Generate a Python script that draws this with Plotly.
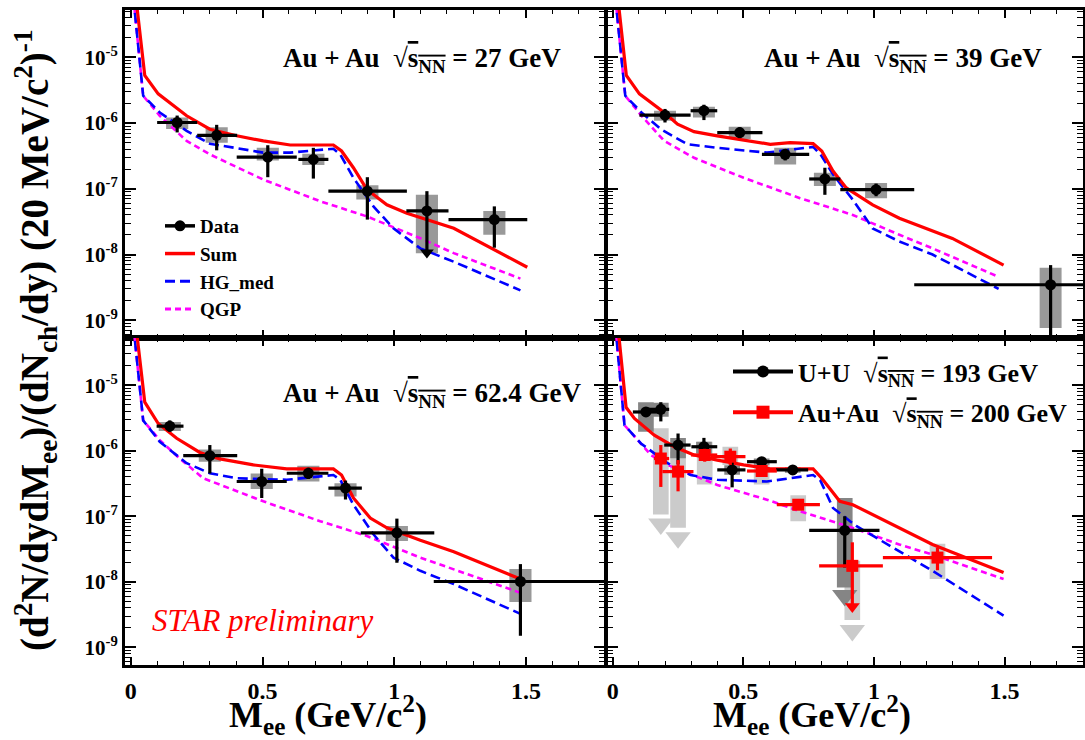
import plotly.graph_objects as go

FONT = "Liberation Serif"

# ---------------- Au+Au 27 GeV ----------------
m_27 = [0.176, 0.326, 0.52, 0.693, 0.898, 1.124, 1.38]
y_27 = [1.02e-6, 6.5e-7, 3.04e-7, 2.8e-7, 9.2e-8, 4.6e-8, 3.4e-8]
mlo_27 = [0.10, 0.252, 0.402, 0.636, 0.75, 1.046, 1.206]
mhi_27 = [0.252, 0.404, 0.63, 0.75, 1.048, 1.206, 1.505]
elo_27 = [7.2e-7, 3.85e-7, 1.5e-7, 1.43e-7, 3.4e-8, 1.1e-8, 1.27e-8]
ehi_27 = [1.3e-6, 9.4e-7, 4.6e-7, 4.2e-7, 1.5e-7, 9.2e-8, 5.4e-8]
slo_27 = [8.1e-7, 5.0e-7, 2.7e-7, 2.3e-7, 6.9e-8, 1.05e-8, 2.0e-8]
shi_27 = [1.22e-6, 8.6e-7, 4.2e-7, 3.4e-7, 1.13e-7, 8.1e-8, 4.6e-8]
arrow_m_27 = [1.124]
arrow_y_27 = [1.07e-8]

sum_m_27 = [0.02, 0.053, 0.104, 0.212, 0.30, 0.402, 0.503, 0.605, 0.668, 0.769, 0.80, 0.845, 0.896, 0.972, 1.048, 1.226, 1.505]
sum_y_27 = [7.7e-5, 5.3e-6, 2.78e-6, 1.29e-6, 8.07e-7, 6.4e-7, 5.35e-7, 4.64e-7, 4.64e-7, 4.64e-7, 3.76e-7, 2.09e-7, 9.77e-8, 5.7e-8, 4.26e-8, 2.51e-8, 6.4e-9]
hg_m_27 = [0.01, 0.047, 0.11, 0.212, 0.30, 0.40, 0.503, 0.605, 0.769, 0.795, 0.845, 0.921, 0.997, 1.099, 1.226, 1.479]
hg_y_27 = [8e-5, 2.6e-6, 1.45e-6, 7.6e-7, 4.86e-7, 4.2e-7, 3.55e-7, 3.55e-7, 4.07e-7, 3.34e-7, 1.47e-7, 5.4e-8, 2.5e-8, 1.24e-8, 7.76e-9, 2.85e-9]
qgp_m_27 = [0.01, 0.047, 0.11, 0.212, 0.30, 0.503, 0.719, 0.896, 1.099, 1.226, 1.479]
qgp_y_27 = [8e-5, 2.6e-6, 1.29e-6, 5.35e-7, 3.34e-7, 1.38e-7, 6.46e-8, 3.8e-8, 1.77e-8, 1.05e-8, 4.3e-9]

# ---------------- Au+Au 39 GeV ----------------
m_39 = [0.20, 0.349, 0.486, 0.66, 0.812, 1.008, 1.676]
y_39 = [1.32e-6, 1.54e-6, 7.16e-7, 3.34e-7, 1.41e-7, 9.7e-8, 3.47e-9]
mlo_39 = [0.102, 0.298, 0.40, 0.571, 0.752, 0.871, 1.154]
mhi_39 = [0.298, 0.40, 0.573, 0.752, 0.871, 1.154, 2.2]
elo_39 = [1.02e-6, 1.11e-6, 5.9e-7, 2.7e-7, 8.1e-8, 7.7e-8, 3e-10]
ehi_39 = [1.64e-6, 1.9e-6, 8.6e-7, 4.0e-7, 2.09e-7, 1.2e-7, 6.9e-9]
slo_39 = [1.08e-6, 1.22e-6, 5.7e-7, 2.35e-7, 1.1e-7, 7.2e-8, 7.6e-10]
shi_39 = [1.54e-6, 1.77e-6, 8.8e-7, 4.2e-7, 1.75e-7, 1.23e-7, 6.3e-9]

sum_m_39 = [0.02, 0.052, 0.102, 0.197, 0.248, 0.311, 0.40, 0.501, 0.603, 0.679, 0.767, 0.80, 0.843, 0.894, 0.995, 1.097, 1.30, 1.496]
sum_y_39 = [7.7e-5, 5.3e-6, 2.78e-6, 1.45e-6, 9.6e-7, 7.4e-7, 6.4e-7, 5.5e-7, 4.75e-7, 5.04e-7, 4.86e-7, 3.76e-7, 1.86e-7, 1.03e-7, 5.7e-8, 3.56e-8, 1.76e-8, 6.9e-9]
hg_m_39 = [0.01, 0.048, 0.11, 0.184, 0.286, 0.40, 0.59, 0.767, 0.795, 0.843, 0.919, 0.995, 1.097, 1.224, 1.477]
hg_y_39 = [8e-5, 2.6e-6, 1.45e-6, 8.07e-7, 4.75e-7, 4.2e-7, 3.55e-7, 4.33e-7, 3.34e-7, 1.66e-7, 6.8e-8, 2.5e-8, 1.58e-8, 1.0e-8, 3.0e-9]
qgp_m_39 = [0.01, 0.048, 0.11, 0.197, 0.311, 0.501, 0.717, 0.919, 1.097, 1.224, 1.477]
qgp_y_39 = [8e-5, 2.6e-6, 1.29e-6, 5.35e-7, 2.96e-7, 1.47e-7, 7.2e-8, 4.0e-8, 2.0e-8, 1.24e-8, 4.57e-9]

# ---------------- Au+Au 62.4 GeV ----------------
m_62 = [0.148, 0.30, 0.497, 0.674, 0.815, 1.01, 1.479]
y_62 = [2.37e-6, 8.4e-7, 3.39e-7, 4.53e-7, 2.69e-7, 5.58e-8, 1.01e-8]
mlo_62 = [0.098, 0.199, 0.402, 0.592, 0.75, 0.873, 1.15]
mhi_62 = [0.2, 0.404, 0.592, 0.75, 0.877, 1.152, 2.2]
elo_62 = [1.94e-6, 4.5e-7, 1.9e-7, 3.7e-7, 1.8e-7, 1.95e-8, 1.5e-9]
ehi_62 = [2.9e-6, 1.22e-6, 5.3e-7, 5.5e-7, 3.5e-7, 9.2e-8, 1.86e-8]
slo_62 = [2.0e-6, 6.8e-7, 2.6e-7, 3.4e-7, 2.0e-7, 4.2e-8, 4.9e-9]
shi_62 = [2.75e-6, 1.04e-6, 4.5e-7, 5.9e-7, 3.2e-7, 7.1e-8, 1.57e-8]

sum_m_62 = [0.02, 0.053, 0.104, 0.174, 0.262, 0.338, 0.465, 0.592, 0.769, 0.80, 0.845, 0.909, 0.972, 1.099, 1.226, 1.352, 1.479]
sum_y_62 = [7.7e-5, 5.5e-6, 2.6e-6, 1.55e-6, 9.4e-7, 7.5e-7, 6.07e-7, 5.28e-7, 5.28e-7, 4.26e-7, 1.9e-7, 9.4e-8, 6.65e-8, 4.29e-8, 2.88e-8, 1.81e-8, 1.1e-8]
hg_m_62 = [0.01, 0.047, 0.11, 0.212, 0.30, 0.402, 0.592, 0.769, 0.795, 0.845, 0.921, 0.997, 1.099, 1.226, 1.479]
hg_y_62 = [8e-5, 2.9e-6, 1.37e-6, 6.45e-7, 4.53e-7, 3.8e-7, 3.6e-7, 4.26e-7, 3.6e-7, 1.5e-7, 5.3e-8, 2.34e-8, 1.47e-8, 9.2e-9, 3.24e-9]
qgp_m_62 = [0.01, 0.047, 0.11, 0.186, 0.275, 0.503, 0.719, 0.896, 1.099, 1.226, 1.492]
qgp_y_62 = [8e-5, 2.9e-6, 1.45e-6, 7.6e-7, 3.8e-7, 1.69e-7, 8.4e-8, 5.0e-8, 2.34e-8, 1.55e-8, 6.5e-9]

# ---------------- U+U 193 GeV ----------------
m_uu = [0.127, 0.184, 0.25, 0.349, 0.457, 0.57, 0.689, 0.888]
y_uu = [3.9e-6, 4.28e-6, 1.22e-6, 1.15e-6, 5.1e-7, 6.8e-7, 5.1e-7, 6.07e-8]
mlo_uu = [0.077, 0.127, 0.197, 0.301, 0.40, 0.514, 0.625, 0.752]
mhi_uu = [0.184, 0.216, 0.298, 0.40, 0.508, 0.628, 0.748, 1.021]
elo_uu = [3.3e-6, 2.8e-6, 6.2e-7, 7.0e-7, 2.76e-7, 5.9e-7, 4.5e-7, 1.65e-8]
ehi_uu = [4.6e-6, 5.5e-6, 1.83e-6, 1.57e-6, 7.1e-7, 7.8e-7, 5.8e-7, 1.0e-7]
slo_uu = [1.94e-6, 3.3e-6, 7.7e-7, 9.1e-7, 4.3e-7, 6.1e-7, 4.6e-7, 8.2e-9]
shi_uu = [5.5e-6, 5.4e-6, 1.57e-6, 1.37e-6, 6.0e-7, 7.6e-7, 5.6e-7, 1.9e-7]
sys_arrow_m_uu = [0.888]
sys_arrow_y_uu = [6.2e-9]

# ---------------- Au+Au 200 GeV ----------------
m_200 = [0.184, 0.25, 0.352, 0.45, 0.57, 0.71, 0.917, 1.243]
y_200 = [7.6e-7, 4.8e-7, 8.6e-7, 8.1e-7, 4.9e-7, 1.5e-7, 1.75e-8, 2.34e-8]
mlo_200 = [0.158, 0.19, 0.30, 0.375, 0.514, 0.628, 0.79, 1.034]
mhi_200 = [0.216, 0.309, 0.40, 0.508, 0.628, 0.793, 1.034, 1.452]
elo_200 = [2.8e-7, 2.4e-7, 6.8e-7, 6.07e-7, 4.2e-7, 1.35e-7, 4.2e-9, 1.5e-8]
ehi_200 = [1.22e-6, 7.2e-7, 1.07e-6, 1.08e-6, 5.6e-7, 1.65e-7, 4.0e-8, 3.3e-8]
slo_200 = [1.06e-7, 6.7e-8, 3.05e-7, 6.07e-7, 3.05e-7, 8.4e-8, 2.6e-9, 1.1e-8]
shi_200 = [2.2e-6, 9.7e-7, 1.37e-6, 1.15e-6, 6.4e-7, 2.1e-7, 2.1e-8, 3.8e-8]
arrow_m_200 = [0.917]
arrow_y_200 = [4.2e-9]
sys_arrow_m_200 = [0.184, 0.25, 0.917]
sys_arrow_y_200 = [7.6e-8, 4.7e-8, 1.8e-9]

sum_m_200 = [0.02, 0.051, 0.083, 0.159, 0.235, 0.311, 0.40, 0.501, 0.603, 0.767, 0.80, 0.869, 0.919, 0.995, 1.224, 1.35, 1.496]
sum_y_200 = [7.7e-5, 4.6e-6, 3.1e-6, 1.73e-6, 1.15e-6, 8.6e-7, 7.2e-7, 6.07e-7, 5.28e-7, 5.28e-7, 3.8e-7, 1.69e-7, 1.5e-7, 1.06e-7, 3.7e-8, 2.34e-8, 1.38e-8]
hg_m_200 = [0.01, 0.045, 0.108, 0.21, 0.298, 0.40, 0.59, 0.767, 0.795, 0.843, 0.932, 1.008, 1.224, 1.496]
hg_y_200 = [8e-5, 2.45e-6, 1.29e-6, 6.45e-7, 4.26e-7, 3.6e-7, 3.39e-7, 4.26e-7, 3.5e-7, 1.34e-7, 7.1e-8, 4.7e-8, 1.47e-8, 3.05e-9]
qgp_m_200 = [0.01, 0.045, 0.146, 0.21, 0.40, 0.59, 0.717, 0.919, 1.097, 1.224, 1.496]
qgp_y_200 = [8e-5, 2.45e-6, 8.6e-7, 6.07e-7, 3.0e-7, 1.79e-7, 1.19e-7, 6.65e-8, 3.7e-8, 2.6e-8, 1.1e-8]

# axis ticks
x_tickvals = [0, 0.5, 1, 1.5]
x_ticktext = ["0", "0.5", "1", "1.5"]
decades = [-9, -8, -7, -6, -5]

# sys box half widths (GeV/c^2)
SYS_HW = 0.042
SYS_HW_TOP = 0.03

RED = "#ff0000"
BLUE = "#0000ff"
MAGENTA = "#ff00ff"
GREY = "#999999"
DARK_GREY = "#858585"
LIGHT_GREY = "#cbcbcb"

fig = go.Figure()


def ax_ids(p):
    return ("x", "y") if p == 1 else (f"x{p}", f"y{p}")


def add_boxes(p, m, lo, hi, hw, color):
    xa, ya = ax_ids(p)
    xs, ys = [], []
    for c, a, b in zip(m, lo, hi):
        xs += [c - hw, c + hw, c + hw, c - hw, c - hw, None]
        ys += [a, a, b, b, a, None]
    fig.add_trace(go.Scatter(x=xs, y=ys, xaxis=xa, yaxis=ya, mode="lines",
                             fill="toself", fillcolor=color, line=dict(width=0, color=color),
                             showlegend=False, hoverinfo="skip"))


def add_arrows(p, m, y, color, size):
    xa, ya = ax_ids(p)
    fig.add_trace(go.Scatter(x=m, y=y, xaxis=xa, yaxis=ya, mode="markers",
                             marker=dict(symbol="triangle-down", size=size, color=color,
                                         line=dict(width=0)),
                             showlegend=False, hoverinfo="skip"))


def add_curves(p, sm, sy, hm, hy, qm, qy):
    xa, ya = ax_ids(p)
    fig.add_trace(go.Scatter(x=qm, y=qy, xaxis=xa, yaxis=ya, mode="lines",
                             line=dict(color=MAGENTA, width=2.6, dash="6px,4px"),
                             showlegend=False, hoverinfo="skip"))
    fig.add_trace(go.Scatter(x=hm, y=hy, xaxis=xa, yaxis=ya, mode="lines",
                             line=dict(color=BLUE, width=2.6, dash="10px,5px"),
                             showlegend=False, hoverinfo="skip"))
    fig.add_trace(go.Scatter(x=sm, y=sy, xaxis=xa, yaxis=ya, mode="lines",
                             line=dict(color=RED, width=3.2),
                             showlegend=False, hoverinfo="skip"))


def add_points(p, m, y, mlo, mhi, elo, ehi, color, symbol, size):
    xa, ya = ax_ids(p)
    fig.add_trace(go.Scatter(
        x=m, y=y, xaxis=xa, yaxis=ya, mode="markers",
        marker=dict(color=color, symbol=symbol, size=size),
        error_x=dict(type="data", symmetric=False,
                     array=[h - c for h, c in zip(mhi, m)],
                     arrayminus=[c - l for c, l in zip(m, mlo)],
                     color=color, thickness=3.2, width=0),
        error_y=dict(type="data", symmetric=False,
                     array=[h - c for h, c in zip(ehi, y)],
                     arrayminus=[c - l for c, l in zip(y, elo)],
                     color=color, thickness=3.2, width=0),
        showlegend=False, hoverinfo="skip"))


# panel 1: 27 GeV
add_boxes(1, m_27, slo_27, shi_27, SYS_HW, GREY)
add_curves(1, sum_m_27, sum_y_27, hg_m_27, hg_y_27, qgp_m_27, qgp_y_27)
add_points(1, m_27, y_27, mlo_27, mhi_27, elo_27, ehi_27, "black", "circle", 11)
add_arrows(1, arrow_m_27, arrow_y_27, "black", 12)

# panel 2: 39 GeV
add_boxes(2, m_39, slo_39, shi_39, SYS_HW, GREY)
add_curves(2, sum_m_39, sum_y_39, hg_m_39, hg_y_39, qgp_m_39, qgp_y_39)
add_points(2, m_39, y_39, mlo_39, mhi_39, elo_39, ehi_39, "black", "circle", 11)

# panel 3: 62.4 GeV
add_boxes(3, m_62, slo_62, shi_62, SYS_HW, GREY)
add_curves(3, sum_m_62, sum_y_62, hg_m_62, hg_y_62, qgp_m_62, qgp_y_62)
add_points(3, m_62, y_62, mlo_62, mhi_62, elo_62, ehi_62, "black", "circle", 11)

# panel 4: U+U 193 GeV and Au+Au 200 GeV
add_boxes(4, m_200, slo_200, shi_200, SYS_HW_TOP, LIGHT_GREY)
add_arrows(4, sys_arrow_m_200, sys_arrow_y_200, LIGHT_GREY, 22)
add_boxes(4, m_uu, slo_uu, shi_uu, SYS_HW_TOP, DARK_GREY)
add_arrows(4, sys_arrow_m_uu, sys_arrow_y_uu, DARK_GREY, 22)
add_curves(4, sum_m_200, sum_y_200, hg_m_200, hg_y_200, qgp_m_200, qgp_y_200)
add_points(4, m_uu, y_uu, mlo_uu, mhi_uu, elo_uu, ehi_uu, "black", "circle", 11)
add_points(4, m_200, y_200, mlo_200, mhi_200, elo_200, ehi_200, RED, "square", 12)
add_arrows(4, arrow_m_200, arrow_y_200, RED, 13)

# legend entries (first panel)
fig.add_trace(go.Scatter(x=[None], y=[None], mode="lines+markers", name="Data",
                         line=dict(color="black", width=3.5),
                         marker=dict(color="black", size=11, symbol="circle"),
                         legend="legend"))
fig.add_trace(go.Scatter(x=[None], y=[None], mode="lines", name="Sum",
                         line=dict(color=RED, width=3.5), legend="legend"))
fig.add_trace(go.Scatter(x=[None], y=[None], mode="lines", name="HG_med",
                         line=dict(color=BLUE, width=3, dash="10px,5px"), legend="legend"))
fig.add_trace(go.Scatter(x=[None], y=[None], mode="lines", name="QGP",
                         line=dict(color=MAGENTA, width=3, dash="6px,4px"), legend="legend"))

# legend entries (fourth panel)
SQRT_S = "\u221a<span style='text-decoration:overline'>s<sub>NN</sub></span>"
fig.add_trace(go.Scatter(x=[None], y=[None], mode="lines+markers",
                         name=f"U+U\u00a0\u00a0{SQRT_S} = 193 GeV",
                         line=dict(color="black", width=4),
                         marker=dict(color="black", size=12, symbol="circle"),
                         legend="legend2", legendgroup="e"))
fig.add_trace(go.Scatter(x=[None], y=[None], mode="lines+markers",
                         name=f"Au+Au\u00a0\u00a0{SQRT_S} = 200 GeV",
                         line=dict(color=RED, width=4),
                         marker=dict(color=RED, size=13, symbol="square"),
                         legend="legend2", legendgroup="f"))

XDOM_L = [125 / 1085, 605 / 1085]
XDOM_R = [607 / 1085, 1083 / 1085]
YDOM_T = [1 - 338 / 740, 1 - 10 / 740]
YDOM_B = [1 - 665 / 740, 1 - 338 / 740]

y_tickvals = [10.0 ** d for d in decades]
y_ticktext = [f"10<sup>{d}</sup>" for d in decades]
y_minor = [k * 10.0 ** d for d in range(-10, -4) for k in range(2, 10)]

tick_font = dict(family=FONT, size=24, color="black", weight="bold")
ytick_font = dict(family=FONT, size=21, color="black", weight="bold")


def xaxis(domain, anchor, labels):
    return dict(domain=domain, anchor=anchor, range=[-0.022, 1.8], automargin=False,
                showline=True, linewidth=3, linecolor="black", mirror="allticks",
                ticks="inside", ticklen=8, tickwidth=1.6, tickcolor="black",
                tickmode="array", tickvals=x_tickvals, ticktext=x_ticktext,
                showticklabels=labels, tickfont=tick_font, ticklabelstandoff=2,
                minor=dict(dtick=0.1, tick0=0, ticks="inside", ticklen=4, tickwidth=1.3,
                           tickcolor="black", showgrid=False),
                showgrid=False, zeroline=False)


def yaxis(domain, anchor, labels):
    return dict(domain=domain, anchor=anchor, type="log", range=[-9.27, -4.28],
                automargin=False,
                showline=True, linewidth=3, linecolor="black", mirror="allticks",
                ticks="inside", ticklen=11, tickwidth=1.6, tickcolor="black",
                tickmode="array", tickvals=y_tickvals, ticktext=y_ticktext,
                showticklabels=labels, tickfont=ytick_font,
                minor=dict(tickmode="array", tickvals=y_minor, ticks="inside", ticklen=6,
                           tickwidth=1.3, tickcolor="black", showgrid=False),
                showgrid=False, zeroline=False)


title_font = dict(family=FONT, size=27, color="black", weight="bold")
annotations = [
    dict(text=f"Au + Au\u00a0\u00a0{SQRT_S} = 27 GeV", x=422 / 1085, y=1 - 60 / 740),
    dict(text=f"Au + Au\u00a0\u00a0{SQRT_S} = 39 GeV", x=903 / 1085, y=1 - 60 / 740),
    dict(text=f"Au + Au\u00a0\u00a0{SQRT_S} = 62.4 GeV", x=432 / 1085, y=1 - 395 / 740),
]
for a in annotations:
    a.update(xref="paper", yref="paper", showarrow=False, font=title_font,
             xanchor="center", yanchor="middle")

axis_title_font = dict(family=FONT, size=36, color="black", weight="bold")
annotations += [
    dict(text="STAR preliminary", x=263 / 1085, y=1 - 620 / 740, xref="paper", yref="paper",
         showarrow=False, xanchor="center", yanchor="middle",
         font=dict(family=FONT, size=31, color=RED, style="italic")),
    dict(text="M<sub>ee</sub> (GeV/c<sup>2</sup>)", x=328 / 1085, y=1 - 715 / 740,
         xref="paper", yref="paper", showarrow=False, xanchor="center", yanchor="middle",
         font=axis_title_font),
    dict(text="M<sub>ee</sub> (GeV/c<sup>2</sup>)", x=812 / 1085, y=1 - 715 / 740,
         xref="paper", yref="paper", showarrow=False, xanchor="center", yanchor="middle",
         font=axis_title_font),
    dict(text="(d<sup>2</sup>N/dydM<sub>ee</sub>)/(dN<sub>ch</sub>/dy) (20 MeV/c<sup>2</sup>)<sup>-1</sup>",
         x=35 / 1085, y=1 - 340 / 740, xref="paper", yref="paper", showarrow=False,
         textangle=-90, xanchor="center", yanchor="middle",
         font=dict(family=FONT, size=39, color="black", weight="bold")),
]

fig.update_layout(
    width=1085, height=740,
    margin=dict(l=0, r=0, t=0, b=0, autoexpand=False),
    paper_bgcolor="white", plot_bgcolor="white",
    xaxis=xaxis(XDOM_L, "y", False), yaxis=yaxis(YDOM_T, "x", True),
    xaxis2=xaxis(XDOM_R, "y2", False), yaxis2=yaxis(YDOM_T, "x2", False),
    xaxis3=xaxis(XDOM_L, "y3", True), yaxis3=yaxis(YDOM_B, "x3", True),
    xaxis4=xaxis(XDOM_R, "y4", True), yaxis4=yaxis(YDOM_B, "x4", False),
    legend=dict(x=160 / 1085, y=1 - 207 / 740, xanchor="left", yanchor="top",
                bgcolor="rgba(0,0,0,0)", tracegroupgap=0, itemwidth=30,
                font=dict(family=FONT, size=19, color="black", weight="bold")),
    legend2=dict(x=728 / 1085, y=1 - 348 / 740, xanchor="left", yanchor="top",
                 bgcolor="rgba(0,0,0,0)", tracegroupgap=4, itemwidth=60,
                 font=dict(family=FONT, size=26, color="black", weight="bold")),
    annotations=annotations,
    showlegend=True,
)

fig.write_html("out.html")
